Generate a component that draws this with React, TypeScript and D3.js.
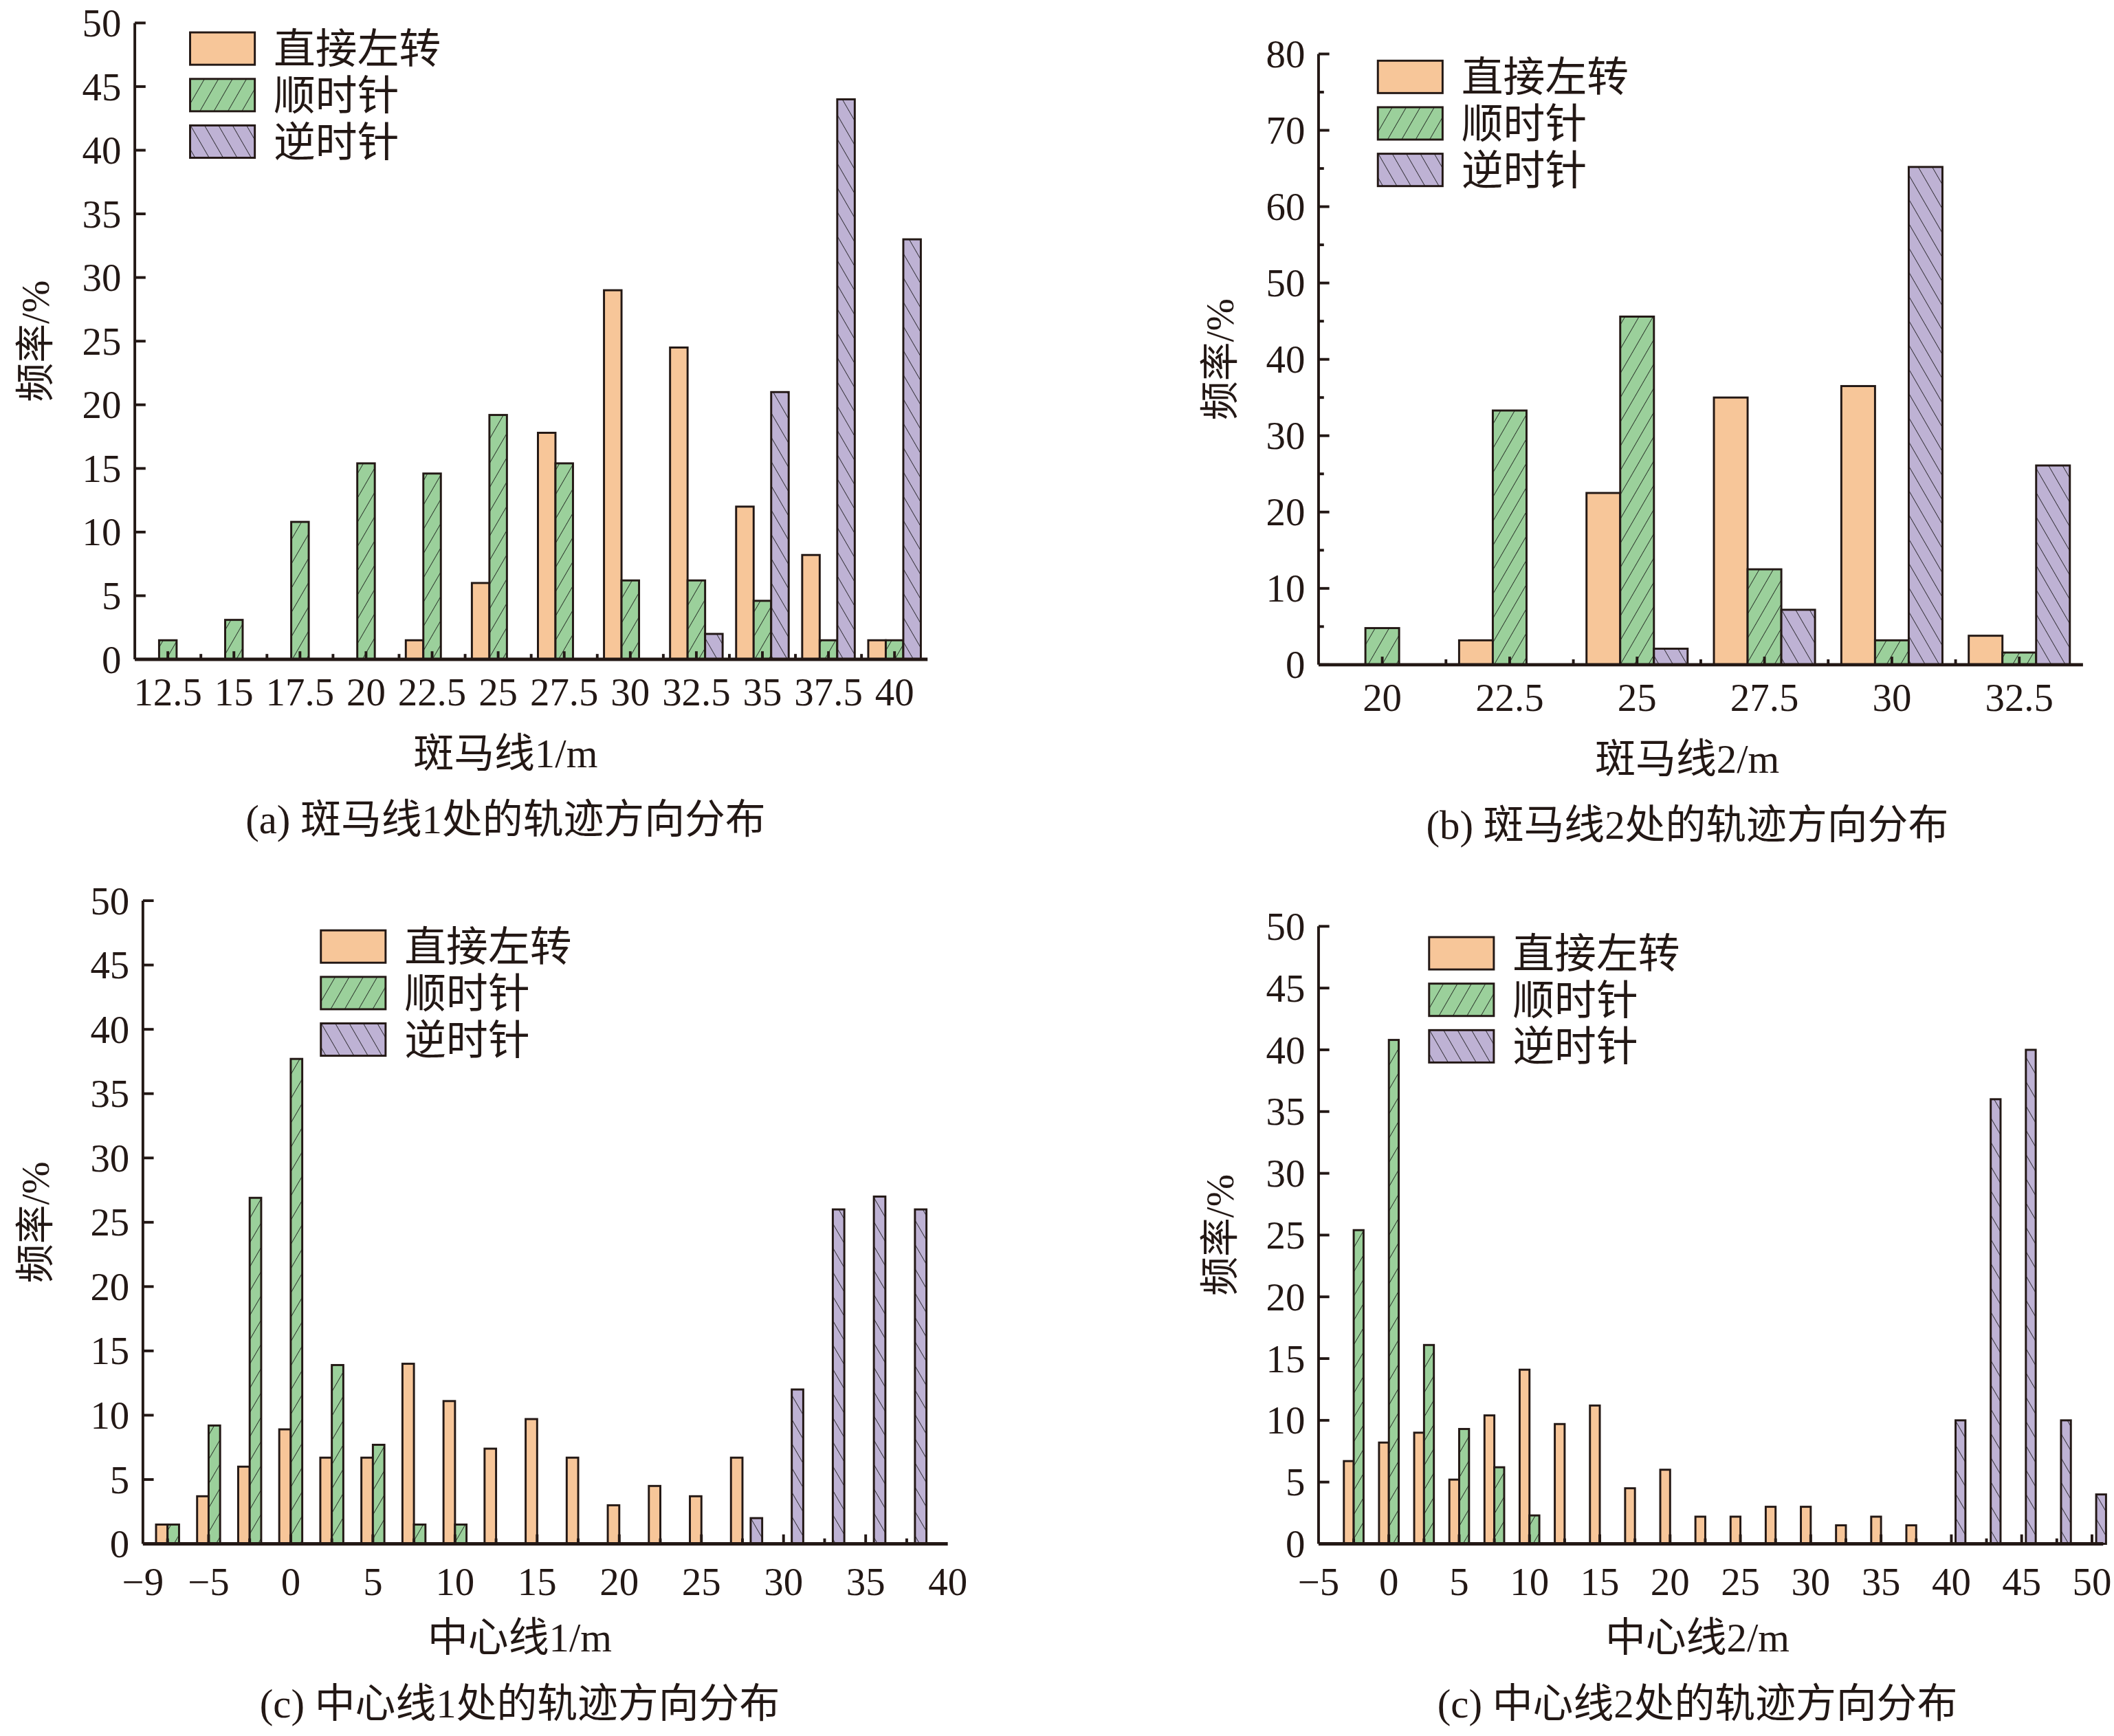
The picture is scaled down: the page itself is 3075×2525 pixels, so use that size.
import * as d3 from 'd3';

// ---- data ----
const seriesNames = ['直接左转', '顺时针', '逆时针'];

const catsA = ['12.5', '15', '17.5', '20', '22.5', '25', '27.5', '30', '32.5', '35', '37.5', '40'];
const leftA = [0, 0, 0, 0, 1.5, 6, 17.8, 29, 24.5, 12, 8.2, 1.5];
const cwA = [1.5, 3.1, 10.8, 15.4, 14.6, 19.2, 15.4, 6.2, 6.2, 4.6, 1.5, 1.5];
const ccwA = [0, 0, 0, 0, 0, 0, 0, 0, 2, 21, 44, 33];

const catsB = ['20', '22.5', '25', '27.5', '30', '32.5'];
const leftB = [0, 3.2, 22.5, 35, 36.5, 3.8];
const cwB = [4.8, 33.3, 45.6, 12.5, 3.2, 1.6];
const ccwB = [0, 0, 2.1, 7.2, 65.2, 26.1];

const posC = [-7.5, -5, -2.5, 0, 2.5, 5, 7.5, 10, 12.5, 15, 17.5, 20, 22.5, 25, 27.5, 30, 32.5, 35, 37.5];
const leftC = [1.5, 3.7, 6, 8.9, 6.7, 6.7, 14, 11.1, 7.4, 9.7, 6.7, 3, 4.5, 3.7, 6.7, 0, 0, 0, 0];
const cwC = [1.5, 9.2, 26.9, 37.7, 13.9, 7.7, 1.5, 1.5, 0, 0, 0, 0, 0, 0, 0, 0, 0, 0, 0];
const ccwC = [0, 0, 0, 0, 0, 0, 0, 0, 0, 0, 0, 0, 0, 0, 2, 12, 26, 27, 26];
const ticksC = [-9, -5, 0, 5, 10, 15, 20, 25, 30, 35, 40];

const posD = [-2.5, 0, 2.5, 5, 7.5, 10, 12.5, 15, 17.5, 20, 22.5, 25, 27.5, 30, 32.5, 35, 37.5, 40, 42.5, 45, 47.5, 50];
const leftD = [6.7, 8.2, 9, 5.2, 10.4, 14.1, 9.7, 11.2, 4.5, 6, 2.2, 2.2, 3, 3, 1.5, 2.2, 1.5, 0, 0, 0, 0, 0];
const cwD = [25.4, 40.8, 16.1, 9.3, 6.2, 2.3, 0, 0, 0, 0, 0, 0, 0, 0, 0, 0, 0, 0, 0, 0, 0, 0];
const ccwD = [0, 0, 0, 0, 0, 0, 0, 0, 0, 0, 0, 0, 0, 0, 0, 0, 0, 10, 36, 40, 10, 4];
const ticksD = [-5, 0, 5, 10, 15, 20, 25, 30, 35, 40, 45, 50];

const fills = ['#F7C699', 'url(#hatchG)', 'url(#hatchP)'];
const NUM = '"Liberation Serif", "Times New Roman", serif';
const CJK = '"Noto Sans CJK SC", sans-serif';
const INK = '#231815';

type Frame = { x0: number; x1: number; y0: number; y1: number; yMax: number; yStep: number; yMinor: number };

function YAxis({ f, y }: { f: Frame; y: d3.ScaleLinear<number, number> }) {
  const major = d3.range(0, f.yMax + 0.01, f.yStep);
  const minor = d3.range(0, f.yMax + 0.01, f.yMinor).filter((v) => !major.includes(v));
  return (
    <g>
      <line x1={f.x0} x2={f.x0} y1={f.y0} y2={f.y1} stroke={INK} strokeWidth={2} />
      {major.map((v) => (
        <g key={'M' + v}>
          <line x1={f.x0} x2={f.x0 + 8} y1={y(v)} y2={y(v)} stroke={INK} strokeWidth={2} />
          <text x={f.x0 - 10} y={y(v) + 10} textAnchor="end" fontFamily={NUM} fontSize={29} fill={INK}>{v}</text>
        </g>
      ))}
      {minor.map((v) => (
        <line key={'m' + v} x1={f.x0} x2={f.x0 + 4} y1={y(v)} y2={y(v)} stroke={INK} strokeWidth={2} />
      ))}
    </g>
  );
}

function Legend({ x, y }: { x: number; y: number }) {
  return (
    <g>
      {seriesNames.map((n, i) => (
        <g key={n} transform={`translate(${x},${y + i * 34.5})`}>
          <rect width={48} height={24} fill={fills[i]} stroke={INK} strokeWidth={1.5} />
          <text x={62} y={23} fontFamily={CJK} fontSize={31} fill={INK}>{n}</text>
        </g>
      ))}
    </g>
  );
}

function Labels({ f, xl, cap, ylx }: { f: Frame; xl: string; cap: string; ylx: number }) {
  const cx = (f.x0 + f.x1) / 2 + (f.x0 < 500 ? -19 : -10);
  const cy = (f.y0 + f.y1) / 2;
  const parts = xl.split(/(\d\/m)/);
  return (
    <g fill={INK}>
      <text x={cx} y={f.y0 + 80} textAnchor="middle" fontSize={30}>
        <tspan fontFamily={CJK}>{parts[0]}</tspan>
        <tspan fontFamily={NUM}>{parts[1]}</tspan>
      </text>
      <text x={cx} y={f.y0 + 129} textAnchor="middle" fontSize={30}>
        <tspan fontFamily={NUM}>{cap.slice(0, 4)}</tspan>
        <tspan fontFamily={CJK}>{cap.slice(4, 7)}</tspan>
        <tspan fontFamily={NUM}>{cap.slice(7, 8)}</tspan>
        <tspan fontFamily={CJK}>{cap.slice(8)}</tspan>
      </text>
      <text transform={`translate(${ylx},${cy}) rotate(-90)`} textAnchor="middle" fontSize={29}>
        <tspan fontFamily={CJK}>频率</tspan>
        <tspan fontFamily={NUM}>/%</tspan>
      </text>
    </g>
  );
}

function BandPanel({ f, cats, series, barW, xl, cap, ylx, lx, ly }: {
  f: Frame; cats: string[]; series: number[][]; barW: number; xl: string; cap: string; ylx: number; lx: number; ly: number;
}) {
  const x = d3.scaleBand().domain(cats).range([f.x0, f.x1]);
  const y = d3.scaleLinear().domain([0, f.yMax]).range([f.y0, f.y1]);
  const bw = x.bandwidth();
  return (
    <g>
      {series.map((vals, s) =>
        vals.map((v, i) =>
          v > 0 ? (
            <rect key={s + '-' + i} x={(x(cats[i]) ?? 0) + bw / 2 + (s - 1.5) * barW} y={y(v)} width={barW}
              height={f.y0 - y(v)} fill={fills[s]} stroke={INK} strokeWidth={1.5} />
          ) : null
        )
      )}
      <YAxis f={f} y={y} />
      <line x1={f.x0} x2={f.x1} y1={f.y0} y2={f.y0} stroke={INK} strokeWidth={2.5} />
      {cats.map((c, i) => (
        <g key={c}>
          <line x1={(x(c) ?? 0) + bw / 2} x2={(x(c) ?? 0) + bw / 2} y1={f.y0} y2={f.y0 - 6} stroke={INK} strokeWidth={2} />
          {i > 0 && <line x1={x(c) ?? 0} x2={x(c) ?? 0} y1={f.y0} y2={f.y0 - 4} stroke={INK} strokeWidth={2} />}
          <text x={(x(c) ?? 0) + bw / 2} y={f.y0 + 34} textAnchor="middle" fontFamily={NUM} fontSize={29} fill={INK}>{c}</text>
        </g>
      ))}
      <Legend x={lx} y={ly} />
      <Labels f={f} xl={xl} cap={cap} ylx={ylx} />
    </g>
  );
}

function LinearPanel({ f, dom, pos, series, ticks, xl, cap, ylx, lx, ly, ccwOff }: {
  f: Frame; dom: [number, number]; pos: number[]; series: number[][]; ticks: number[]; xl: string; cap: string;
  ylx: number; lx: number; ly: number; ccwOff: number;
}) {
  const x = d3.scaleLinear().domain(dom).range([f.x0, f.x1]);
  const y = d3.scaleLinear().domain([0, f.yMax]).range([f.y0, f.y1]);
  const w = 0.7;
  const offs = [-w, 0, ccwOff];
  return (
    <g>
      {series.map((vals, s) =>
        vals.map((v, i) =>
          v > 0 ? (
            <rect key={s + '-' + i} x={x(pos[i] + offs[s])} y={y(v)} width={x(w) - x(0)}
              height={f.y0 - y(v)} fill={fills[s]} stroke={INK} strokeWidth={1.5} />
          ) : null
        )
      )}
      <YAxis f={f} y={y} />
      <line x1={f.x0} x2={f.x1} y1={f.y0} y2={f.y0} stroke={INK} strokeWidth={2.5} />
      {pos.map((p) => (
        <line key={'t' + p} x1={x(p)} x2={x(p)} y1={f.y0} y2={f.y0 - (p % 5 === 0 ? 7 : 4)} stroke={INK} strokeWidth={2} />
      ))}
      {ticks.map((t) => (
        <text key={t} x={x(t)} y={f.y0 + 38} textAnchor="middle" fontFamily={NUM} fontSize={29} fill={INK}>
          {t < 0 ? '\u2212' + Math.abs(t) : t}
        </text>
      ))}
      <Legend x={lx} y={ly} />
      <Labels f={f} xl={xl} cap={cap} ylx={ylx} />
    </g>
  );
}

export default function App() {
  const fa: Frame = { x0: 100, x1: 688, y0: 489, y1: 17, yMax: 50, yStep: 5, yMinor: 5 };
  const fb: Frame = { x0: 978, x1: 1545, y0: 493, y1: 40, yMax: 80, yStep: 10, yMinor: 5 };
  const fc: Frame = { x0: 106, x1: 703, y0: 1145, y1: 668, yMax: 50, yStep: 5, yMinor: 5 };
  const fd: Frame = { x0: 978, x1: 1560, y0: 1145, y1: 687, yMax: 50, yStep: 5, yMinor: 5 };
  return (
    <svg width={3075} height={2525} viewBox="0 0 1568 1287.5"
      style={{ position: 'absolute', left: 0, top: 0, background: '#fff' }}>
      <defs>
        <pattern id="hatchG" patternUnits="userSpaceOnUse" width={9} height={9} patternTransform="rotate(30)">
          <rect width={9} height={9} fill="#9BD09B" />
          <line x1={0} y1={0} x2={0} y2={9} stroke="#111" strokeWidth={0.8} />
        </pattern>
        <pattern id="hatchP" patternUnits="userSpaceOnUse" width={9} height={9} patternTransform="rotate(-30)">
          <rect width={9} height={9} fill="#BEB2D4" />
          <line x1={0} y1={0} x2={0} y2={9} stroke="#111" strokeWidth={0.8} />
        </pattern>
      </defs>
      <BandPanel f={fa} cats={catsA} series={[leftA, cwA, ccwA]} barW={13} xl="斑马线1/m"
        cap="(a) 斑马线1处的轨迹方向分布" ylx={36} lx={141} ly={24} />
      <BandPanel f={fb} cats={catsB} series={[leftB, cwB, ccwB]} barW={25} xl="斑马线2/m"
        cap="(b) 斑马线2处的轨迹方向分布" ylx={915} lx={1022} ly={45} />
      <LinearPanel f={fc} dom={[-9, 40]} pos={posC} series={[leftC, cwC, ccwC]} ticks={ticksC} xl="中心线1/m"
        cap="(c) 中心线1处的轨迹方向分布" ylx={36} lx={238} ly={690} ccwOff={0.5} />
      <LinearPanel f={fd} dom={[-5, 50.8]} pos={posD} series={[leftD, cwD, ccwD]} ticks={ticksD} xl="中心线2/m"
        cap="(c) 中心线2处的轨迹方向分布" ylx={915} lx={1060} ly={695} ccwOff={0.3} />
    </svg>
  );
}
